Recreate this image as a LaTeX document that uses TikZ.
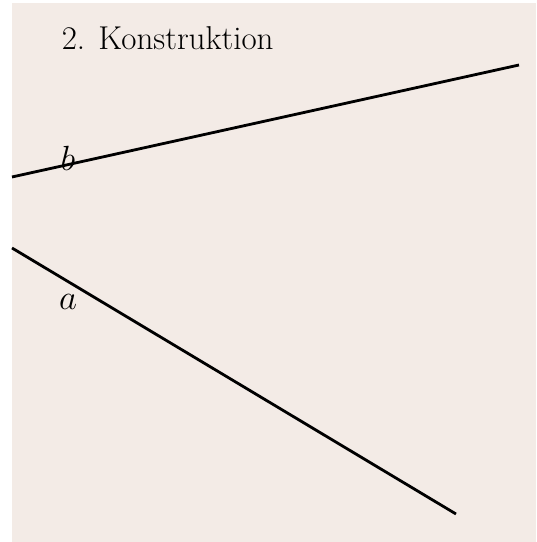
\documentclass[tikz,border=0pt]{standalone}
\usepackage{tikz}
\usetikzlibrary{positioning}
\definecolor{paper}{RGB}{243,235,230}
\tikzset{
    gline/.style={draw, line width=2pt},
    glabel/.style={font=\fontsize{23}{27}\selectfont},
    title/.style={anchor=base west, font=\fontsize{23.5}{28}\selectfont},
}
\begin{document}
\begin{tikzpicture}
    \useasboundingbox (0,0) rectangle (13.4,13.55);
    \fill[paper] (0.3,0) rectangle (13.4,13.475);
    \node[title] (t) at (1.42,12.3) {2. Konstruktion};
    \coordinate (b1) at (0.3,9.125);
    \coordinate (b2) at (12.975,11.925);
    \coordinate (a1) at (0.3,7.35);
    \coordinate (a2) at (11.4,0.7);
    \draw[gline] (b1) -- (b2);
    \draw[gline] (a1) -- (a2);
    \node[glabel] (lb) at (1.7,9.6) {$b$};
    \node[glabel] (la) at (1.7,6.0) {$a$};
\end{tikzpicture}
\end{document}
